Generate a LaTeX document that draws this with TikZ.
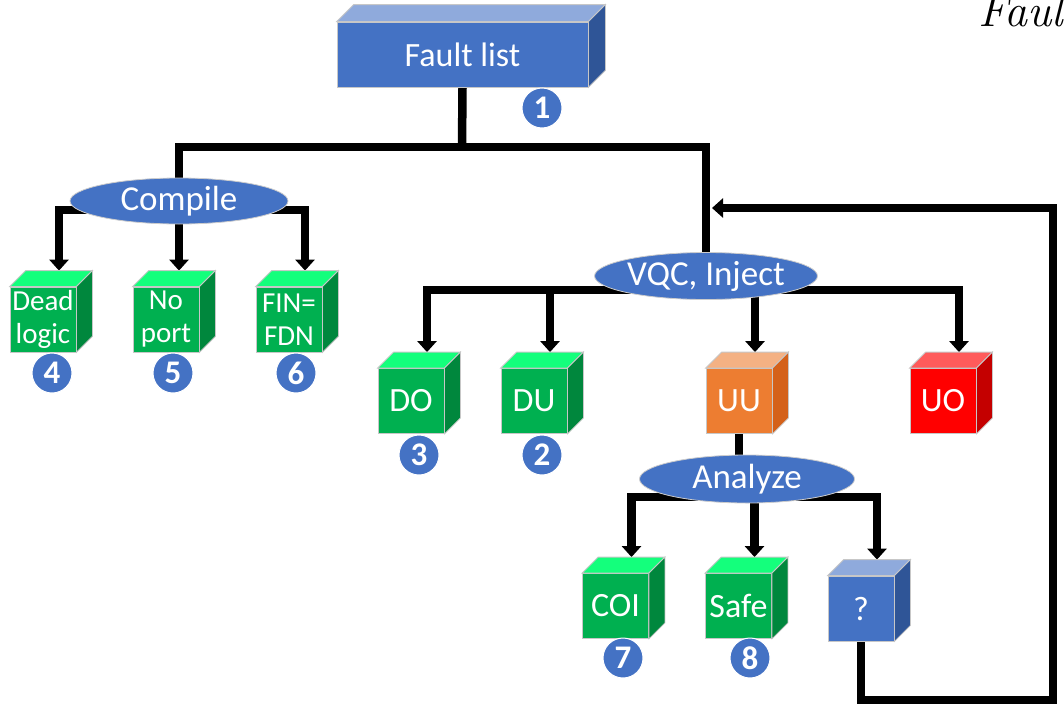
\documentclass[tikz,border=0pt]{standalone}
\usepackage{fontspec}
\newfontfamily\calibri{Carlito}
\usetikzlibrary{arrows.meta,shapes.geometric,backgrounds}

\definecolor{boxblue}{HTML}{4472C4}
\definecolor{boxbluetop}{HTML}{8FAADC}
\definecolor{boxblueside}{HTML}{2F5597}
\definecolor{okgreen}{HTML}{00B050}
\definecolor{okgreentop}{HTML}{14FF7C}
\definecolor{okgreenside}{HTML}{00873D}
\definecolor{uuorange}{HTML}{ED7D31}
\definecolor{uuorangetop}{HTML}{F4B183}
\definecolor{uuorangeside}{HTML}{D4611A}
\definecolor{uored}{HTML}{FF0000}
\definecolor{uoredtop}{HTML}{FF5B5B}
\definecolor{uoredside}{HTML}{C40000}

\tikzset{
  face/.style={draw=black!22, line width=0.8pt},
  front/.style={face, rectangle, inner sep=0pt, text=white, align=center,
    font=\calibri\fontsize{34}{38}\selectfont},
  smallcube/.style={front, minimum width=66pt, minimum height=65pt},
  twoline/.style={font=\calibri\fontsize{29}{33}\selectfont},
  oval/.style={ellipse, fill=boxblue, draw=black!20, line width=0.8pt, inner sep=0pt,
    text=white, font=\calibri\fontsize{35}{38}\selectfont},
  num/.style={circle, fill=boxblue, draw=white, line width=1pt, minimum size=40pt,
    inner sep=0pt, text=white, font=\calibri\bfseries\fontsize{33}{36}\selectfont},
  link/.style={line width=8.5pt},
  arrow/.style={link, -{Triangle[length=11pt,width=19pt]}},
}

% top and side of a cube whose front face is node #1
\newcommand\cubefaces[4]{%
  \filldraw[face,fill=#3] (#1.north west) -- ([shift={(#2,-#2)}]#1.north west)
    -- ([shift={(#2,-#2)}]#1.north east) -- (#1.north east) -- cycle;
  \filldraw[face,fill=#4] (#1.north east) -- ([shift={(#2,-#2)}]#1.north east)
    -- ([shift={(#2,-#2)}]#1.south east) -- (#1.south east) -- cycle;
  \coordinate (#1-top) at ([shift={(#2,-#2)}]#1.north);
}

\begin{document}
\begin{tikzpicture}[x=1pt,y=-1pt]
  \useasboundingbox (0,0) rectangle (1064,707);

  \node[anchor=base west, inner sep=0pt, font=\itshape\fontsize{46}{48}\selectfont] (title) at (978,26) {Fault};

  \node[front, fill=boxblue, minimum width=251pt, minimum height=65pt] (fault) at (462.5,54.5) {Fault list};
  \cubefaces{fault}{17}{boxbluetop}{boxblueside}
  \node[num] (n1) at (542,108) {1};

  \node[oval, minimum width=218pt, minimum height=46pt] (compile) at (179,201) {Compile};
  \node[oval, minimum width=213pt, minimum height=47pt] (vqc) at (706,276) {VQC, Inject};
  \node[oval, minimum width=215pt, minimum height=48pt] (analyze) at (747,479) {Analyze};

  \node[smallcube, twoline, fill=okgreen] (dead) at (43,319.5) {Dead\\logic};
  \cubefaces{dead}{16}{okgreentop}{okgreenside}
  \node[smallcube, twoline, fill=okgreen] (noport) at (166,319.5) {No\\port};
  \cubefaces{noport}{16}{okgreentop}{okgreenside}
  \node[smallcube, twoline, fill=okgreen] (fin) at (289,319.5) {FIN=\\FDN};
  \cubefaces{fin}{16}{okgreentop}{okgreenside}
  \node[num] (n4) at (52,373) {4};
  \node[num] (n5) at (173,373) {5};
  \node[num] (n6) at (296,373) {6};

  \node[smallcube, fill=okgreen] (do) at (411,401) {DO};
  \cubefaces{do}{16}{okgreentop}{okgreenside}
  \node[smallcube, fill=okgreen] (du) at (534,401) {DU};
  \cubefaces{du}{16}{okgreentop}{okgreenside}
  \node[smallcube, fill=uuorange] (uu) at (739,401) {UU};
  \cubefaces{uu}{16}{uuorangetop}{uuorangeside}
  \node[smallcube, fill=uored] (uo) at (943,401) {UO};
  \cubefaces{uo}{16}{uoredtop}{uoredside}
  \node[num] (n3) at (419,455) {3};
  \node[num] (n2) at (542,455) {2};

  \node[smallcube, fill=okgreen] (coi) at (615.5,606) {COI};
  \cubefaces{coi}{16}{okgreentop}{okgreenside}
  \node[smallcube, fill=okgreen] (safe) at (738.5,606) {Safe};
  \cubefaces{safe}{16}{okgreentop}{okgreenside}
  \node[smallcube, fill=boxblue] (unk) at (861,608.5) {?};
  \cubefaces{unk}{16}{boxbluetop}{boxblueside}
  \node[num] (n7) at (623,658) {7};
  \node[num] (n8) at (750,658) {8};

  \coordinate (split) at (462,147);
  \coordinate (corner) at (1053,700);
  \coordinate (back) at (712,208);

  \begin{scope}[on background layer]
    \draw[link] (fault.south) -- (split);
    \draw[link] (compile.center) |- (split) -| (vqc.center);
    \draw[arrow] ([yshift=-9pt]compile.center) -| (dead-top);
    \draw[arrow] (compile.center) -- (compile.center |- noport-top);
    \draw[arrow] ([yshift=-9pt]compile.center) -| (fin-top);
    \draw[arrow] ([yshift=-14pt]vqc.center) -| (do-top);
    \draw[arrow] ([yshift=-14pt]vqc.center) -| (du-top);
    \draw[arrow] ([yshift=-14pt]vqc.center) -| (uu-top);
    \draw[arrow] ([yshift=-14pt]vqc.center) -| (uo-top);
    \draw[link] (uu.south) -- (uu.south |- analyze.center);
    \draw[arrow] ([yshift=-18pt]analyze.center) -| (coi-top);
    \draw[arrow] ([yshift=-18pt]analyze.center) -| (safe-top);
    \draw[arrow] ([yshift=-18pt]analyze.center) -| (unk-top);
    \draw[arrow] (unk.south) |- (corner) |- (back);
  \end{scope}
\end{tikzpicture}
\end{document}
